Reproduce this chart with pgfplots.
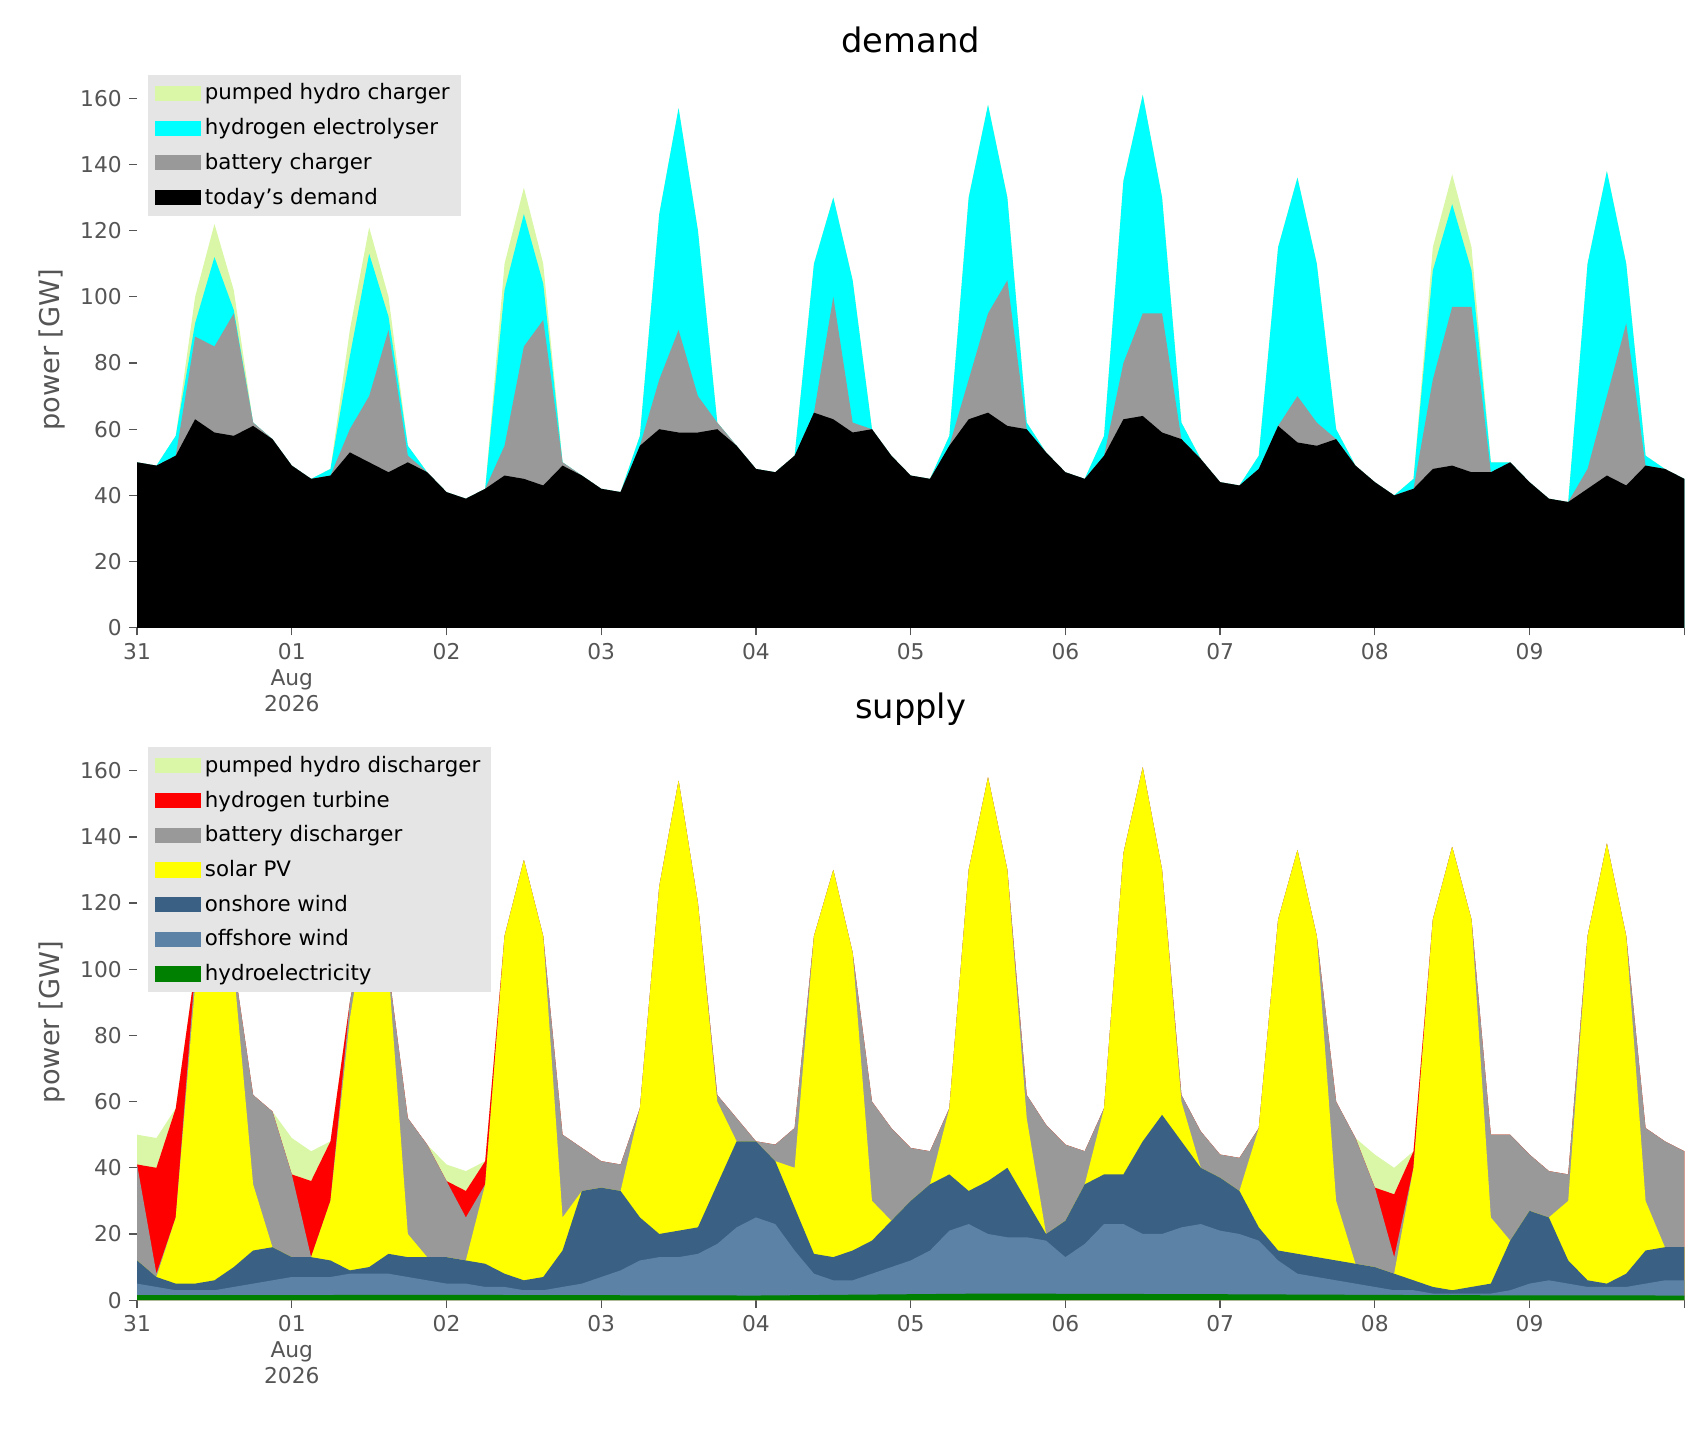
\documentclass[border=0pt]{standalone}
\usepackage{pgfplots}
\usepackage{pgfplotstable}
\pgfplotsset{compat=1.18}
\usepackage{fontspec}
\setmainfont{DejaVu Sans}
\definecolor{ph}{RGB}{217,247,166}
\definecolor{gr}{RGB}{153,153,153}
\definecolor{cy}{RGB}{0,255,255}
\definecolor{ye}{RGB}{255,255,0}
\definecolor{re}{RGB}{255,0,0}
\definecolor{onw}{RGB}{58,97,131}
\definecolor{offw}{RGB}{92,130,165}
\definecolor{hy}{RGB}{0,128,0}
\definecolor{tl}{RGB}{85,85,85}
\pgfplotstableread{
h D B E U
0 50 50 50 50
3 49 49 49 49
6 52 52 58 58
9 63 88 92 100
12 59 85 112 122
15 58 95 96 102
18 61 62 62 62
21 57 57 57 57
24 49 49 49 49
27 45 45 45 45
30 46 46 48 48
33 53 60 82 90
36 50 70 113 121
39 47 90 94 100
42 50 52 55 55
45 47 47 47 47
48 41 41 41 41
51 39 39 39 39
54 42 42 42 42
57 46 55 102 110
60 45 85 125 133
63 43 93 104 110
66 49 50 50 50
69 46 46 46 46
72 42 42 42 42
75 41 41 41 41
78 55 55 58 58
81 60 75 125 125
84 59 90 157 157
87 59 70 120 120
90 60 62 62 62
93 55 55 55 55
96 48 48 48 48
99 47 47 47 47
102 52 52 52 52
105 65 65 110 110
108 63 100 130 130
111 59 62 105 105
114 60 60 60 60
117 52 52 52 52
120 46 46 46 46
123 45 45 45 45
126 55 55 58 58
129 63 75 130 130
132 65 95 158 158
135 61 105 130 130
138 60 60 62 62
141 53 53 53 53
144 47 47 47 47
147 45 45 45 45
150 52 52 58 58
153 63 80 135 135
156 64 95 161 161
159 59 95 130 130
162 57 57 62 62
165 51 51 51 51
168 44 44 44 44
171 43 43 43 43
174 48 48 52 52
177 61 61 115 115
180 56 70 136 136
183 55 62 110 110
186 57 57 60 60
189 49 49 49 49
192 44 44 44 44
195 40 40 40 40
198 42 42 45 45
201 48 75 108 115
204 49 97 128 137
207 47 97 108 115
210 47 47 50 50
213 50 50 50 50
216 44 44 44 44
219 39 39 39 39
222 38 38 38 38
225 42 48 110 110
228 46 70 138 138
231 43 92 110 110
234 49 49 52 52
237 48 48 48 48
240 45 45 45 45
}\demand
\pgfplotstableread{
h O N S BD H U
0 5 12 12 41 41 50
3 4 7 7 8 40 49
6 3 5 25 25 58 58
9 3 5 95 100 100 100
12 3 6 122 122 122 122
15 4 10 100 102 102 102
18 5 15 35 62 62 62
21 6 16 16 57 57 57
24 7 13 13 38 38 49
27 7 13 13 13 36 45
30 7 12 30 30 48 48
33 8 9 85 90 90 90
36 8 10 121 121 121 121
39 8 14 100 100 100 100
42 7 13 20 55 55 55
45 6 13 13 47 47 47
48 5 13 13 36 36 41
51 5 12 12 25 33 39
54 4 11 35 35 42 42
57 4 8 110 110 110 110
60 3 6 133 133 133 133
63 3 7 110 110 110 110
66 4 15 25 50 50 50
69 5 33 33 46 46 46
72 7 34 34 42 42 42
75 9 33 33 41 41 41
78 12 25 58 58 58 58
81 13 20 125 125 125 125
84 13 21 157 157 157 157
87 14 22 120 120 120 120
90 17 35 60 62 62 62
93 22 48 48 55 55 55
96 25 48 48 48 48 48
99 23 42 42 47 47 47
102 15 28 40 52 52 52
105 8 14 110 110 110 110
108 6 13 130 130 130 130
111 6 15 105 105 105 105
114 8 18 30 60 60 60
117 10 24 24 52 52 52
120 12 30 30 46 46 46
123 15 35 35 45 45 45
126 21 38 58 58 58 58
129 23 33 130 130 130 130
132 20 36 158 158 158 158
135 19 40 130 130 130 130
138 19 30 55 62 62 62
141 18 20 20 53 53 53
144 13 24 24 47 47 47
147 17 35 35 45 45 45
150 23 38 58 58 58 58
153 23 38 135 135 135 135
156 20 48 161 161 161 161
159 20 56 130 130 130 130
162 22 48 60 62 62 62
165 23 40 40 51 51 51
168 21 37 37 44 44 44
171 20 33 33 43 43 43
174 18 22 52 52 52 52
177 12 15 115 115 115 115
180 8 14 136 136 136 136
183 7 13 110 110 110 110
186 6 12 30 60 60 60
189 5 11 11 49 49 49
192 4 10 10 34 34 44
195 3 8 8 13 32 40
198 3 6 40 40 45 45
201 2 4 115 115 115 115
204 2 3 137 137 137 137
207 2 4 115 115 115 115
210 2 5 25 50 50 50
213 3 18 18 50 50 50
216 5 27 27 44 44 44
219 6 25 25 39 39 39
222 5 12 30 38 38 38
225 4 6 110 110 110 110
228 4 5 138 138 138 138
231 4 8 110 110 110 110
234 5 15 30 52 52 52
237 6 16 16 48 48 48
240 6 16 16 45 45 45
}\supply
\pgfplotsset{
  myax/.style={
    scale only axis, width=711pt,
    xmin=0, xmax=240, ymin=0, ymax=168,
    xtick={0,24,...,240},
    xticklabels={31,{01\\Aug\\2026},02,03,04,05,06,07,08,09,{}},
    xticklabel style={align=center, text=tl, font=\fontsize{10}{12}\selectfont},
    ytick={0,20,...,160},
    yticklabel style={text=tl, font=\fontsize{10}{12}\selectfont},
    /pgf/number format/assume math mode=true,
    axis line style={draw=none},
    tick align=outside, major tick length=3.5pt,
    tick style={tl, line width=0.6pt},
    xtick pos=bottom, ytick pos=left,
    ylabel={power [GW]}, ylabel style={text=tl, font=\fontsize{12.5}{15}\selectfont},
    title style={font=\fontsize{15.5}{18}\selectfont, yshift=-1pt},
    legend cell align=left,
    legend style={at={(0.007,0.995)}, anchor=north west, fill=black!10, draw=none,
      font=\fontsize{9.8}{11}\selectfont, row sep=3pt},
    area legend,
    legend image code/.code={\fill[#1] (0pt,-3.5pt) rectangle (21pt,3.5pt);},
  }
}
\begin{document}
\begin{tikzpicture}
\path[use as bounding box] (-63pt,-369pt) rectangle (721pt,288.5pt);
\begin{axis}[myax, at={(0,0)}, anchor=south west, height=255.5pt, title={demand}]
\addplot[fill=ph, draw=none] table[x=h,y=U]{\demand} \closedcycle;
\addlegendentry{pumped hydro charger}
\addplot[fill=cy, draw=none] table[x=h,y=E]{\demand} \closedcycle;
\addlegendentry{hydrogen electrolyser}
\addplot[fill=gr, draw=none] table[x=h,y=B]{\demand} \closedcycle;
\addlegendentry{battery charger}
\addplot[fill=black, draw=none] table[x=h,y=D]{\demand} \closedcycle;
\addlegendentry{today's demand}
\end{axis}
\begin{axis}[myax, at={(0,-309pt)}, anchor=south west, height=255.5pt, title={supply}]
\addplot[fill=ph, draw=none] table[x=h,y=U]{\supply} \closedcycle;
\addlegendentry{pumped hydro discharger}
\addplot[fill=re, draw=none] table[x=h,y=H]{\supply} \closedcycle;
\addlegendentry{hydrogen turbine}
\addplot[fill=gr, draw=none] table[x=h,y=BD]{\supply} \closedcycle;
\addlegendentry{battery discharger}
\addplot[fill=ye, draw=none] table[x=h,y=S]{\supply} \closedcycle;
\addlegendentry{solar PV}
\addplot[fill=onw, draw=none] table[x=h,y=N]{\supply} \closedcycle;
\addlegendentry{onshore wind}
\addplot[fill=offw, draw=none] table[x=h,y=O]{\supply} \closedcycle;
\addlegendentry{offshore wind}
\addplot[fill=hy, draw=none] coordinates {(0,1.5)(48,1.6)(96,1.4)(132,2)(168,1.8)(204,1.5)(240,1.4)} \closedcycle;
\addlegendentry{hydroelectricity}
\end{axis}
\end{tikzpicture}
\end{document}
